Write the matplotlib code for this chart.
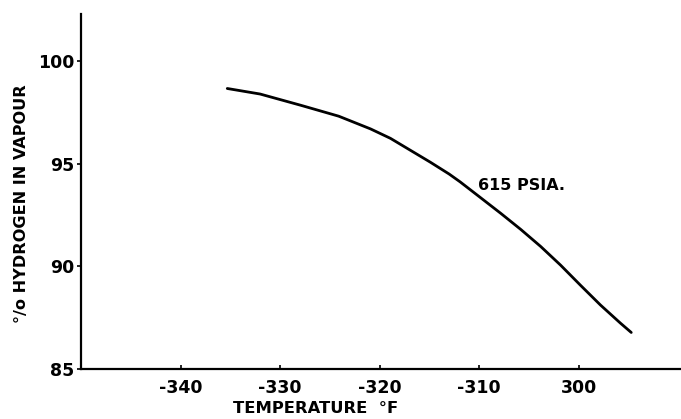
import matplotlib
matplotlib.use("Agg")
import matplotlib.pyplot as plt

# Data
temperature_f = [-335.3, -332.0, -327.9, -324.1, -320.9, -318.9, -316.9,
                 -314.9, -313.0, -311.9, -309.9, -307.8, -305.8, -303.8,
                 -301.8, -299.8, -297.8, -295.8, -294.7]
hydrogen_pct = [98.67, 98.40, 97.85, 97.32, 96.70, 96.24, 95.66,
                95.08, 94.50, 94.12, 93.37, 92.58, 91.80, 90.97,
                90.06, 89.08, 88.12, 87.24, 86.78]

x_ticks = [-340, -330, -320, -310, -300]
x_tick_labels = ["-340", "-330", "-320", "-310", "300"]
y_ticks = [85, 90, 95, 100]
y_tick_labels = ["85", "90", "95", "100"]

curve_label = "615 PSIA."
x_label = "TEMPERATURE  °F"
y_label = "°/o HYDROGEN IN VAPOUR"

plt.rcParams['font.family'] = ['DejaVu Sans']
plt.rcParams['font.weight'] = 'bold'

fig = plt.figure(figsize=(6.81, 4.19), dpi=100)
ax = fig.add_axes([81/681, 1 - 369/419, 600/681, (369 - 14)/419])

ax.plot(temperature_f, hydrogen_pct, color='black', lw=2.0,
        solid_capstyle='round', solid_joinstyle='round')

ax.set_xlim(-350, -289.7)
ax.set_ylim(85, 102.3)

for s in ['top', 'right']:
    ax.spines[s].set_visible(False)
for s in ['left', 'bottom']:
    ax.spines[s].set_linewidth(1.6)
    ax.spines[s].set_color('black')

ax.set_xticks(x_ticks)
ax.set_xticklabels(x_tick_labels, fontsize=12.5, fontweight='bold')
ax.set_yticks(y_ticks)
ax.set_yticklabels(y_tick_labels, fontsize=12.5, fontweight='bold')
ax.tick_params(axis='x', direction='in', length=3, width=1.2, pad=7)
ax.tick_params(axis='y', direction='out', length=3, width=1.2, pad=2)

ax.text(-310.1, 93.94, curve_label, fontsize=11.5, fontweight='bold',
        ha='left', va='center')

fig.text(316/681, 1 - 408/419, x_label, fontsize=11.8, fontweight='bold',
         ha='center', va='center')
fig.text(22/681, 1 - 204/419, y_label, fontsize=11.6, fontweight='bold',
         ha='center', va='center', rotation=90)

fig.savefig("out.png", dpi=100)
